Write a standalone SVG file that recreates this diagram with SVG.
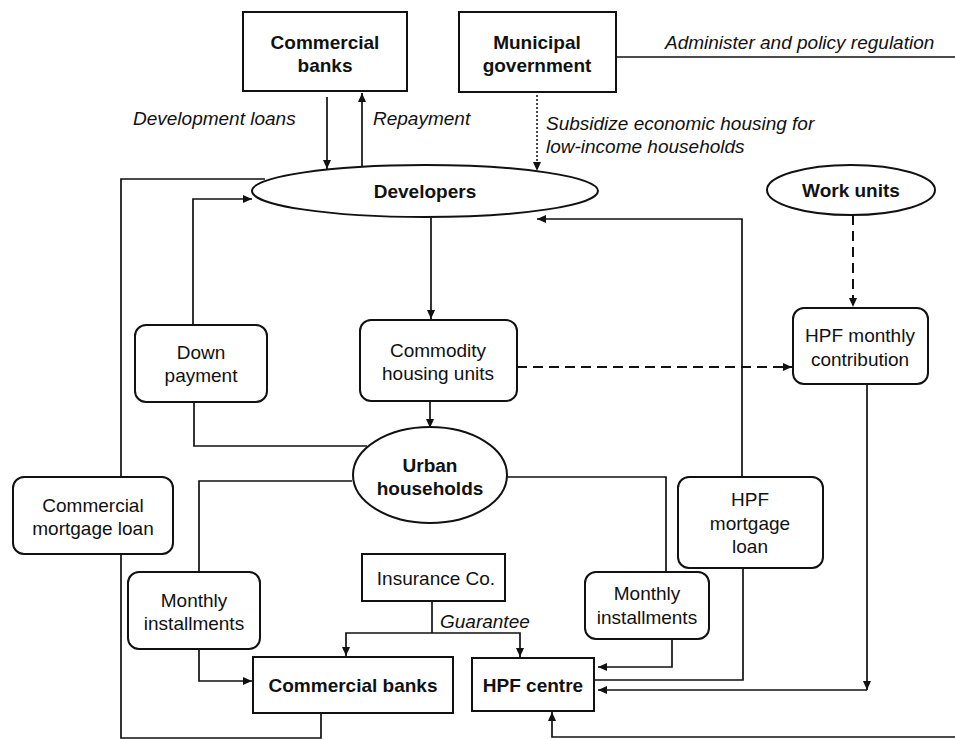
<svg xmlns="http://www.w3.org/2000/svg" width="955" height="740" viewBox="0 0 955 740">
<defs>
<marker id="ah" markerWidth="10" markerHeight="8" refX="9" refY="4" orient="auto" markerUnits="userSpaceOnUse">
<path d="M0,0 L9,4 L0,8 Z" fill="#111"/>
</marker>
<style>
text{font-family:"Liberation Sans",Arial,sans-serif;font-size:19px;fill:#111}
.b{font-weight:bold}
.i{font-style:italic}
.m{text-anchor:middle}
.box{fill:#fff;stroke:#111;stroke-width:2}
.ln{fill:none;stroke:#111;stroke-width:1.7}
.arr{fill:none;stroke:#111;stroke-width:1.7;marker-end:url(#ah)}
.dash{fill:none;stroke:#111;stroke-width:2;stroke-dasharray:10 6;marker-end:url(#ah)}
.dot{fill:none;stroke:#111;stroke-width:1.5;stroke-dasharray:2 2;marker-end:url(#ah)}
</style>
</defs>
<rect width="955" height="740" fill="#fff"/>

<g id="connectors">
<line class="arr" x1="327" y1="97" x2="327" y2="169"/>
<line class="arr" x1="362" y1="167" x2="362" y2="93"/>
<line class="dot" x1="537" y1="95" x2="537" y2="171"/>
<line class="ln" x1="616" y1="57" x2="955" y2="57"/>
<polyline class="ln" points="121,477 121,179 265,179"/>
<polyline class="arr" points="193,325 193,199 252,199"/>
<line class="arr" x1="431" y1="217" x2="431" y2="319"/>
<line class="arr" x1="430" y1="401" x2="430" y2="428"/>
<polyline class="ln" points="194,402 194,446 367,446"/>
<line class="dash" x1="517" y1="367" x2="792" y2="367"/>
<line class="dash" x1="853" y1="215" x2="853" y2="307"/>
<polyline class="arr" points="742,477 742,219 537,219"/>
<polyline class="ln" points="352,481 199,481 199,572"/>
<polyline class="ln" points="506,477 666,477 666,572"/>
<polyline class="arr" points="199,649 199,681 252,681"/>
<polyline class="arr" points="672,639 672,667 598,667"/>
<polyline class="ln" points="743,568 743,680 594,680"/>
<line class="arr" x1="867" y1="384" x2="867" y2="690"/>
<line class="arr" x1="867" y1="690" x2="598" y2="690"/>
<polyline class="ln" points="432,601 432,633"/>
<polyline class="arr" points="432,633 346,633 346,656"/>
<polyline class="arr" points="432,633 520,633 520,657"/>
<polyline class="ln" points="121,554 121,738 321,738 321,713"/>
<polyline class="arr" points="955,737 552,737 552,712"/>
</g>

<g id="commercial-banks-top">
<rect class="box" x="243" y="12" width="164" height="79"/>
<text class="b m" x="325" y="49">Commercial</text>
<text class="b m" x="325" y="72">banks</text>
</g>
<g id="municipal-government">
<rect class="box" x="459" y="12" width="157" height="80"/>
<text class="b m" x="537" y="49">Municipal</text>
<text class="b m" x="537" y="72">government</text>
</g>
<g id="labels-top">
<text class="i" x="665" y="49">Administer and policy regulation</text>
<text class="i" x="133" y="125">Development loans</text>
<text class="i" x="373" y="125">Repayment</text>
<text class="i" x="546" y="130">Subsidize economic housing for</text>
<text class="i" x="546" y="153">low-income households</text>
</g>
<g id="developers">
<ellipse class="box" cx="425" cy="191" rx="173" ry="26"/>
<text class="b m" x="425" y="198">Developers</text>
</g>
<g id="work-units">
<ellipse class="box" cx="851" cy="190" rx="84" ry="25"/>
<text class="b m" x="851" y="197">Work units</text>
</g>
<g id="down-payment">
<rect class="box" x="135" y="325" width="132" height="77" rx="11"/>
<text class="m" x="201" y="359">Down</text>
<text class="m" x="201" y="382">payment</text>
</g>
<g id="commodity-housing">
<rect class="box" x="360" y="320" width="157" height="81" rx="11"/>
<text class="m" x="438" y="357">Commodity</text>
<text class="m" x="438" y="380">housing units</text>
</g>
<g id="hpf-monthly">
<rect class="box" x="793" y="308" width="135" height="76" rx="11"/>
<text class="m" x="860" y="342">HPF monthly</text>
<text class="m" x="860" y="366">contribution</text>
</g>
<g id="urban-households">
<ellipse class="box" cx="430" cy="475" rx="77" ry="48"/>
<text class="b m" x="430" y="472">Urban</text>
<text class="b m" x="430" y="495">households</text>
</g>
<g id="commercial-mortgage-loan">
<rect class="box" x="13" y="477" width="160" height="77" rx="11"/>
<text class="m" x="93" y="512">Commercial</text>
<text class="m" x="93" y="535">mortgage loan</text>
</g>
<g id="hpf-mortgage-loan">
<rect class="box" x="678" y="477" width="145" height="91" rx="11"/>
<text class="m" x="750" y="506">HPF</text>
<text class="m" x="750" y="530">mortgage</text>
<text class="m" x="750" y="553">loan</text>
</g>
<g id="monthly-installments-left">
<rect class="box" x="128" y="572" width="132" height="77" rx="11"/>
<text class="m" x="194" y="607">Monthly</text>
<text class="m" x="194" y="630">installments</text>
</g>
<g id="insurance-co">
<rect class="box" x="362" y="554" width="143" height="47"/>
<text class="m" x="436" y="585">Insurance Co.</text>
</g>
<text class="i" x="440" y="628">Guarantee</text>
<g id="monthly-installments-right">
<rect class="box" x="585" y="572" width="124" height="67" rx="11"/>
<text class="m" x="647" y="600">Monthly</text>
<text class="m" x="647" y="624">installments</text>
</g>
<g id="commercial-banks-bottom">
<rect class="box" x="253" y="657" width="200" height="56"/>
<text class="b m" x="353" y="692">Commercial banks</text>
</g>
<g id="hpf-centre">
<rect class="box" x="472" y="658" width="122" height="53"/>
<text class="b m" x="533" y="692">HPF centre</text>
</g>
</svg>
